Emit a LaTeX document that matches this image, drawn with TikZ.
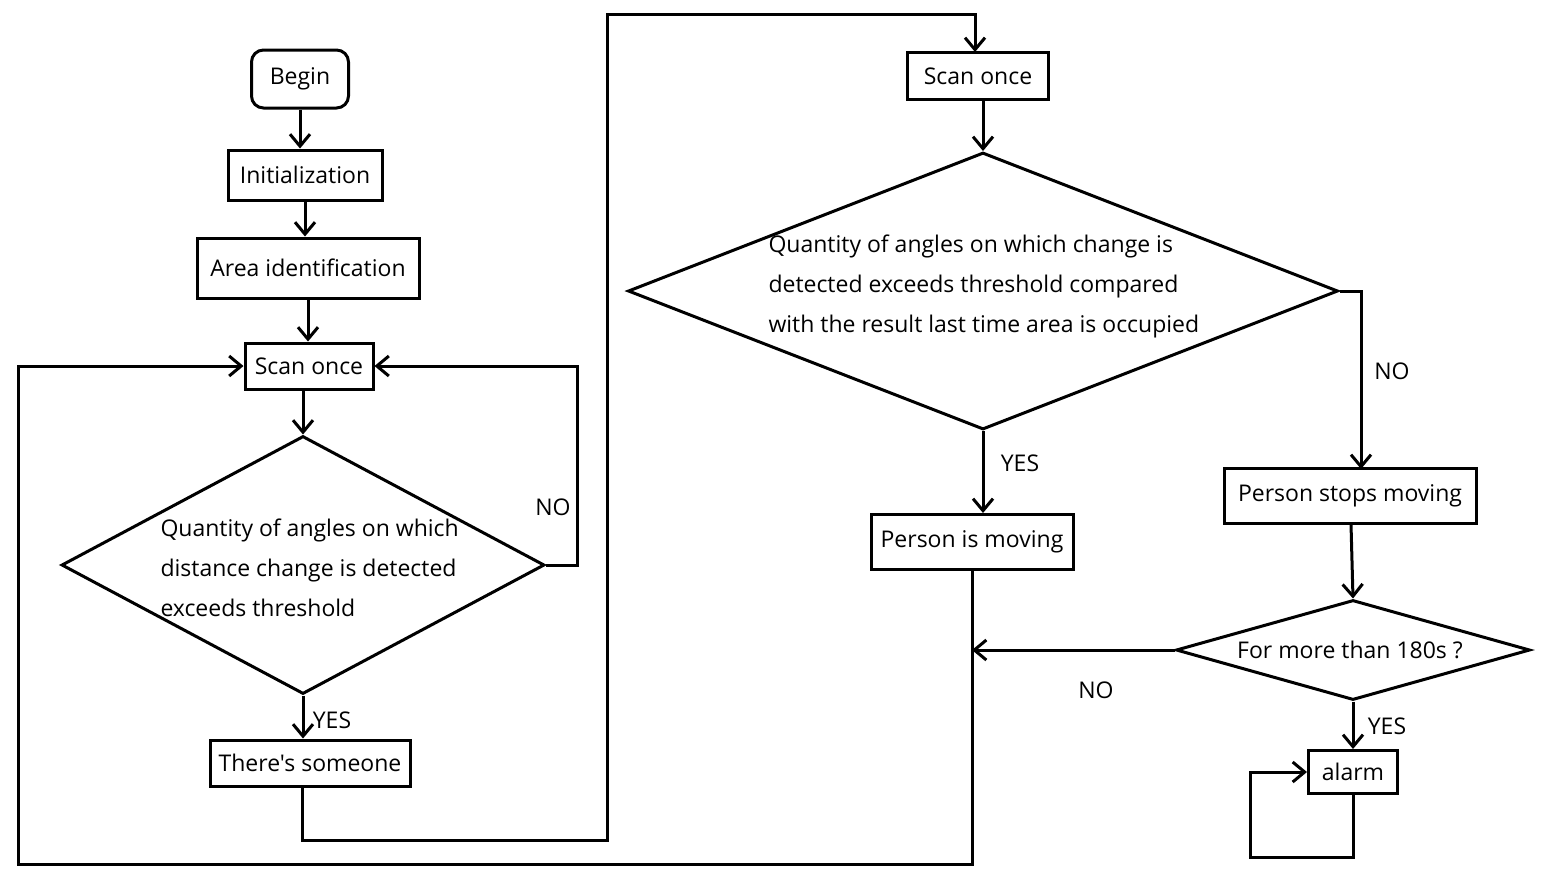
\documentclass[tikz,border=0pt]{standalone}
\usepackage{fontspec}
\setmainfont{Open Sans}[Ligatures=TeXOff]
\usetikzlibrary{shapes.geometric,arrows.meta}

\begin{document}
\begin{tikzpicture}[x=0.5pt,y=-0.5pt,line width=1.5pt,
    font=\fontsize{11.5}{20}\selectfont,
    box/.style={draw,inner sep=0pt},
    decision/.style={draw,diamond,inner sep=0pt},
    >={Straight Barb[length=6pt,width=10pt]}]
  \useasboundingbox (0,0) rectangle (1542,875);
  % left column
  \node [box,rounded corners=6pt,minimum width=48.5pt,minimum height=29pt] (begin) at (300,79) {Begin};
  \node [box,minimum width=77pt,minimum height=25pt] (init) at (305,175) {Initialization};
  \node [box,minimum width=111pt,minimum height=30pt] (area) at (308,268) {Area identification};
  \node [box,minimum width=64pt,minimum height=23pt] (scanA) at (309,366) {Scan once};
  \node [decision,minimum width=241.5pt,minimum height=129pt] (dA) at (303,565) {};
  \node [anchor=west,align=left,inner sep=0pt] (dAtext) at (159,568) {Quantity of angles on which\\distance change is detected\\exceeds threshold};
  \node [box,minimum width=100pt,minimum height=23pt] (someone) at (310,763) {There's someone};
  % right part
  \node [box,minimum width=70.5pt,minimum height=23.5pt] (scanB) at (978,76) {Scan once};
  \node [decision,minimum width=355pt,minimum height=138.5pt] (dB) at (983,291) {};
  \node [anchor=west,align=left,inner sep=0pt] (dBtext) at (767,286) {Quantity of angles on which change is\\detected exceeds threshold compared\\with the result last time area is occupied};
  \node [box,minimum width=101pt,minimum height=27.5pt] (moving) at (972,542) {Person is moving};
  \node [box,minimum width=126pt,minimum height=27.5pt] (stops) at (1350,496) {Person stops moving};
  \node [decision,minimum width=177pt,minimum height=50pt] (dC) at (1353,650) {};
  \node (dCtext) at (1350,650) {For more than 180s ?};
  \node [box,minimum width=44.5pt,minimum height=21.5pt] (alarm) at (1353,772) {alarm};
  % labels
  \node (noA) at (553,507) {NO};
  \node (yesA) at (332,720) {YES};
  \node (yesB) at (1020,463) {YES};
  \node (noB) at (1392,371) {NO};
  \node (noC) at (1096,690) {NO};
  \node (yesC) at (1387,726) {YES};
  \coordinate (join) at (moving.south |- dC.west);
  \coordinate (loop) at (1250,857);
  % connectors
  \draw [->] (begin.south) -- (begin.south |- init.north);
  \draw [->] (init.south) -- (init.south |- area.north);
  \draw [->] (area.south) -- (area.south |- scanA.north);
  \draw [->] (303,389) -- (dA.north);
  \draw [->] (dA.east) -- (577,565) |- (scanA.east);
  \draw [->] (dA.south) -- (dA.south |- someone.north);
  \draw [->] (302,786) |- (607,840) -- (607,14) -| (975,52);
  \draw [->] (983,99) -- (dB.north);
  \draw [->] (dB.south) -- (dB.south |- moving.north);
  \draw [->] (dB.east) -- (1361,291) -- (1361,469);
  \draw [->] (1351,524) -- (dC.north);
  \draw [->] (dC.west) -- (join);
  \draw [->] (moving.south) |- (18,864) |- (scanA.west);
  \draw [->] (dC.south) -- (alarm.north);
  \draw [->] (alarm.south) |- (loop) |- (alarm.west);
\end{tikzpicture}
\end{document}
